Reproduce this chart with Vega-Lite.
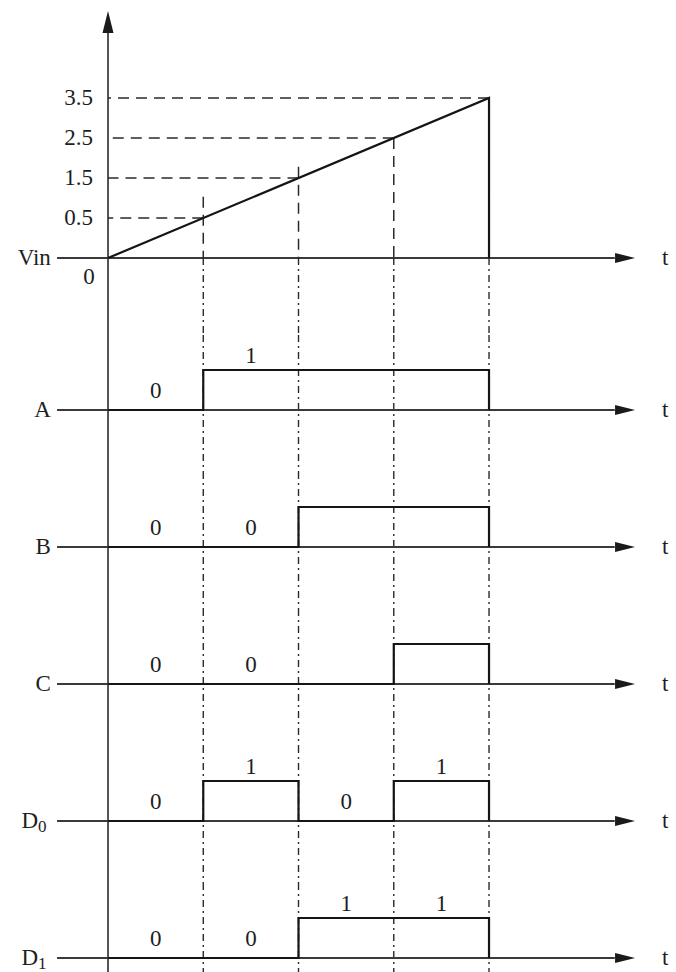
{
  "$schema": "https://vega.github.io/schema/vega-lite/v6.json",
  "padding": 0,
  "spacing": 0,
  "bounds": "flush",
  "background": "white",
  "config": {
    "view": {"stroke": null},
    "text": {"font": "Liberation Serif", "fontSize": 23, "color": "#1e1e1e"},
    "rule": {"color": "#2a2a2a"},
    "line": {"color": "#151515"}
  },
  "datasets": {
    "vin": [
      {"t": 0, "v": 0, "i": 0},
      {"t": 4, "v": 3.5, "i": 1},
      {"t": 4, "v": 0, "i": 2}
    ],
    "vinTicks": [
      {"label": "0.5", "v": 0.5, "t": 1, "top": 1.03},
      {"label": "1.5", "v": 1.5, "t": 2, "top": 1.78},
      {"label": "2.5", "v": 2.5, "t": 3, "top": 2.5},
      {"label": "3.5", "v": 3.5, "t": 4, "top": 3.5}
    ],
    "edges": [{"t": 1}, {"t": 2}, {"t": 3}, {"t": 4}],
    "signals": [
      {"sig": "A", "t": 0, "v": 0}, {"sig": "A", "t": 1, "v": 1}, {"sig": "A", "t": 4, "v": 0},
      {"sig": "B", "t": 0, "v": 0}, {"sig": "B", "t": 2, "v": 1}, {"sig": "B", "t": 4, "v": 0},
      {"sig": "C", "t": 0, "v": 0}, {"sig": "C", "t": 3, "v": 1}, {"sig": "C", "t": 4, "v": 0},
      {"sig": "D0", "t": 0, "v": 0}, {"sig": "D0", "t": 1, "v": 1}, {"sig": "D0", "t": 2, "v": 0}, {"sig": "D0", "t": 3, "v": 1}, {"sig": "D0", "t": 4, "v": 0},
      {"sig": "D1", "t": 0, "v": 0}, {"sig": "D1", "t": 2, "v": 1}, {"sig": "D1", "t": 4, "v": 0}
    ],
    "bits": [
      {"sig": "A", "t": 0.5, "bit": 0}, {"sig": "A", "t": 1.5, "bit": 1},
      {"sig": "B", "t": 0.5, "bit": 0}, {"sig": "B", "t": 1.5, "bit": 0},
      {"sig": "C", "t": 0.5, "bit": 0}, {"sig": "C", "t": 1.5, "bit": 0},
      {"sig": "D0", "t": 0.5, "bit": 0}, {"sig": "D0", "t": 1.5, "bit": 1}, {"sig": "D0", "t": 2.5, "bit": 0}, {"sig": "D0", "t": 3.5, "bit": 1},
      {"sig": "D1", "t": 0.5, "bit": 0}, {"sig": "D1", "t": 1.5, "bit": 0}, {"sig": "D1", "t": 2.5, "bit": 1}, {"sig": "D1", "t": 3.5, "bit": 1}
    ]
  },
  "vconcat": [
    {
      "width": 676, "height": 335,
      "layer": [
        {
          "data": {"values": [{"t": 0}]},
          "mark": {"type": "rule", "strokeWidth": 1.6},
          "encoding": {
            "x": {"field": "t", "type": "quantitative", "scale": {"domain": [-1.134, 5.963], "nice": false, "zero": false}, "axis": null},
            "y": {"datum": 5.4, "type": "quantitative", "scale": {"domain": [0, 0.5, 3.5], "range": [258, 218, 98], "nice": false, "zero": false}, "axis": null},
            "y2": {"datum": -0.9625}
          }
        },
        {
          "data": {"values": [{"t": 0}]},
          "mark": {"type": "point", "shape": "M-0.5,1L0,-1L0.5,1Z", "filled": true, "size": 484, "color": "#1a1a1a", "opacity": 1},
          "encoding": {
            "x": {"field": "t", "type": "quantitative"},
            "y": {"datum": 5.4, "type": "quantitative"}
          }
        },
        {
          "data": {"values": [{"t": -0.535}]},
          "mark": {"type": "rule", "strokeWidth": 1.8, "color": "#3a3a3a"},
          "encoding": {
            "x": {"field": "t", "type": "quantitative"},
            "x2": {"datum": 5.32},
            "y": {"datum": 0, "type": "quantitative"}
          }
        },
        {
          "data": {"values": [{"t": 5.428}]},
          "mark": {"type": "point", "shape": "M-1,-0.5L1,0L-1,0.5Z", "filled": true, "size": 400, "color": "#1a1a1a", "opacity": 1},
          "encoding": {
            "x": {"field": "t", "type": "quantitative"},
            "y": {"datum": 0, "type": "quantitative"}
          }
        },
        {
          "data": {"name": "vinTicks"},
          "mark": {"type": "rule", "strokeWidth": 1.5, "strokeDash": [11, 7]},
          "encoding": {
            "x": {"field": "t", "type": "quantitative"},
            "x2": {"datum": 0},
            "y": {"field": "v", "type": "quantitative"}
          }
        },
        {
          "data": {"name": "vinTicks"},
          "transform": [{"filter": "datum.t < 4"}],
          "mark": {"type": "rule", "strokeWidth": 1.5, "strokeDash": [11, 7]},
          "encoding": {
            "x": {"field": "t", "type": "quantitative"},
            "y": {"field": "top", "type": "quantitative"},
            "y2": {"datum": 0}
          }
        },
        {
          "data": {"name": "edges"},
          "mark": {"type": "rule", "strokeWidth": 1.4, "strokeDash": [7, 4, 2, 4]},
          "encoding": {
            "x": {"field": "t", "type": "quantitative"},
            "y": {"datum": 0, "type": "quantitative"},
            "y2": {"datum": -0.9625}
          }
        },
        {
          "data": {"name": "vin"},
          "mark": {"type": "line", "strokeWidth": 2.2},
          "encoding": {
            "x": {"field": "t", "type": "quantitative"},
            "y": {"field": "v", "type": "quantitative"},
            "order": {"field": "i", "type": "quantitative"}
          }
        },
        {
          "data": {"name": "vinTicks"},
          "mark": {"type": "text", "align": "right", "baseline": "middle"},
          "encoding": {
            "x": {"datum": -0.157, "type": "quantitative"},
            "y": {"field": "v", "type": "quantitative"},
            "text": {"field": "label"}
          }
        },
        {
          "data": {"values": [{"label": "0"}]},
          "mark": {"type": "text", "align": "center", "baseline": "middle"},
          "encoding": {
            "x": {"datum": -0.2, "type": "quantitative"},
            "y": {"datum": -0.2375, "type": "quantitative"},
            "text": {"field": "label"}
          }
        },
        {
          "data": {"values": [{"label": "Vin"}]},
          "mark": {"type": "text", "align": "right", "baseline": "middle"},
          "encoding": {
            "x": {"datum": -0.6, "type": "quantitative"},
            "y": {"datum": 0, "type": "quantitative"},
            "text": {"field": "label"}
          }
        },
        {
          "data": {"values": [{"label": "t"}]},
          "mark": {"type": "text", "align": "center", "baseline": "middle"},
          "encoding": {
            "x": {"datum": 5.85, "type": "quantitative"},
            "y": {"datum": 0, "type": "quantitative"},
            "text": {"field": "label"}
          }
        }
      ]
    },
    {
      "width": 676, "height": 137,
      "layer": [
        {"data": {"values": [{"t": 0}]}, "mark": {"type": "rule", "strokeWidth": 1.6},
         "encoding": {"x": {"field": "t", "type": "quantitative", "scale": {"domain": [-1.134, 5.963], "nice": false, "zero": false}, "axis": null}}},
        {"data": {"name": "edges"}, "mark": {"type": "rule", "strokeWidth": 1.4, "strokeDash": [7, 4, 2, 4]},
         "encoding": {"x": {"field": "t", "type": "quantitative"}}},
        {"data": {"values": [{"t": -0.535}]}, "mark": {"type": "rule", "strokeWidth": 1.8, "color": "#3a3a3a"},
         "encoding": {"x": {"field": "t", "type": "quantitative"}, "x2": {"datum": 5.32},
                      "y": {"datum": 0, "type": "quantitative", "scale": {"domain": [0, 1], "range": [75, 35], "nice": false, "zero": false}, "axis": null}}},
        {"data": {"values": [{"t": 5.428}]}, "mark": {"type": "point", "shape": "M-1,-0.5L1,0L-1,0.5Z", "filled": true, "size": 400, "color": "#1a1a1a", "opacity": 1},
         "encoding": {"x": {"field": "t", "type": "quantitative"}, "y": {"datum": 0, "type": "quantitative"}}},
        {"data": {"name": "signals"}, "transform": [{"filter": "datum.sig === 'A'"}], "mark": {"type": "line", "interpolate": "step-after", "strokeWidth": 2.2},
         "encoding": {"x": {"field": "t", "type": "quantitative"}, "y": {"field": "v", "type": "quantitative"}}},
        {"data": {"name": "bits"}, "transform": [{"filter": "datum.sig === 'A' && datum.bit === 0"}], "mark": {"type": "text", "align": "center", "baseline": "alphabetic", "dy": -12},
         "encoding": {"x": {"field": "t", "type": "quantitative"}, "y": {"datum": 0, "type": "quantitative"}, "text": {"field": "bit"}}},
        {"data": {"name": "bits"}, "transform": [{"filter": "datum.sig === 'A' && datum.bit === 1"}], "mark": {"type": "text", "align": "center", "baseline": "alphabetic", "dy": -7},
         "encoding": {"x": {"field": "t", "type": "quantitative"}, "y": {"datum": 1, "type": "quantitative"}, "text": {"field": "bit"}}},
        {"data": {"values": [{"label": "A"}]}, "mark": {"type": "text", "align": "right", "baseline": "middle"},
         "encoding": {"x": {"datum": -0.6, "type": "quantitative"}, "y": {"datum": 0, "type": "quantitative"}, "text": {"field": "label"}}},
        {"data": {"values": [{"label": "t"}]}, "mark": {"type": "text", "align": "center", "baseline": "middle"},
         "encoding": {"x": {"datum": 5.85, "type": "quantitative"}, "y": {"datum": 0, "type": "quantitative"}, "text": {"field": "label"}}}
      ]
    },
    {
      "width": 676, "height": 137,
      "layer": [
        {"data": {"values": [{"t": 0}]}, "mark": {"type": "rule", "strokeWidth": 1.6},
         "encoding": {"x": {"field": "t", "type": "quantitative", "scale": {"domain": [-1.134, 5.963], "nice": false, "zero": false}, "axis": null}}},
        {"data": {"name": "edges"}, "mark": {"type": "rule", "strokeWidth": 1.4, "strokeDash": [7, 4, 2, 4]},
         "encoding": {"x": {"field": "t", "type": "quantitative"}}},
        {"data": {"values": [{"t": -0.535}]}, "mark": {"type": "rule", "strokeWidth": 1.8, "color": "#3a3a3a"},
         "encoding": {"x": {"field": "t", "type": "quantitative"}, "x2": {"datum": 5.32},
                      "y": {"datum": 0, "type": "quantitative", "scale": {"domain": [0, 1], "range": [75, 35], "nice": false, "zero": false}, "axis": null}}},
        {"data": {"values": [{"t": 5.428}]}, "mark": {"type": "point", "shape": "M-1,-0.5L1,0L-1,0.5Z", "filled": true, "size": 400, "color": "#1a1a1a", "opacity": 1},
         "encoding": {"x": {"field": "t", "type": "quantitative"}, "y": {"datum": 0, "type": "quantitative"}}},
        {"data": {"name": "signals"}, "transform": [{"filter": "datum.sig === 'B'"}], "mark": {"type": "line", "interpolate": "step-after", "strokeWidth": 2.2},
         "encoding": {"x": {"field": "t", "type": "quantitative"}, "y": {"field": "v", "type": "quantitative"}}},
        {"data": {"name": "bits"}, "transform": [{"filter": "datum.sig === 'B' && datum.bit === 0"}], "mark": {"type": "text", "align": "center", "baseline": "alphabetic", "dy": -12},
         "encoding": {"x": {"field": "t", "type": "quantitative"}, "y": {"datum": 0, "type": "quantitative"}, "text": {"field": "bit"}}},
        {"data": {"name": "bits"}, "transform": [{"filter": "datum.sig === 'B' && datum.bit === 1"}], "mark": {"type": "text", "align": "center", "baseline": "alphabetic", "dy": -7},
         "encoding": {"x": {"field": "t", "type": "quantitative"}, "y": {"datum": 1, "type": "quantitative"}, "text": {"field": "bit"}}},
        {"data": {"values": [{"label": "B"}]}, "mark": {"type": "text", "align": "right", "baseline": "middle"},
         "encoding": {"x": {"datum": -0.6, "type": "quantitative"}, "y": {"datum": 0, "type": "quantitative"}, "text": {"field": "label"}}},
        {"data": {"values": [{"label": "t"}]}, "mark": {"type": "text", "align": "center", "baseline": "middle"},
         "encoding": {"x": {"datum": 5.85, "type": "quantitative"}, "y": {"datum": 0, "type": "quantitative"}, "text": {"field": "label"}}}
      ]
    },
    {
      "width": 676, "height": 137,
      "layer": [
        {"data": {"values": [{"t": 0}]}, "mark": {"type": "rule", "strokeWidth": 1.6},
         "encoding": {"x": {"field": "t", "type": "quantitative", "scale": {"domain": [-1.134, 5.963], "nice": false, "zero": false}, "axis": null}}},
        {"data": {"name": "edges"}, "mark": {"type": "rule", "strokeWidth": 1.4, "strokeDash": [7, 4, 2, 4]},
         "encoding": {"x": {"field": "t", "type": "quantitative"}}},
        {"data": {"values": [{"t": -0.535}]}, "mark": {"type": "rule", "strokeWidth": 1.8, "color": "#3a3a3a"},
         "encoding": {"x": {"field": "t", "type": "quantitative"}, "x2": {"datum": 5.32},
                      "y": {"datum": 0, "type": "quantitative", "scale": {"domain": [0, 1], "range": [75, 35], "nice": false, "zero": false}, "axis": null}}},
        {"data": {"values": [{"t": 5.428}]}, "mark": {"type": "point", "shape": "M-1,-0.5L1,0L-1,0.5Z", "filled": true, "size": 400, "color": "#1a1a1a", "opacity": 1},
         "encoding": {"x": {"field": "t", "type": "quantitative"}, "y": {"datum": 0, "type": "quantitative"}}},
        {"data": {"name": "signals"}, "transform": [{"filter": "datum.sig === 'C'"}], "mark": {"type": "line", "interpolate": "step-after", "strokeWidth": 2.2},
         "encoding": {"x": {"field": "t", "type": "quantitative"}, "y": {"field": "v", "type": "quantitative"}}},
        {"data": {"name": "bits"}, "transform": [{"filter": "datum.sig === 'C' && datum.bit === 0"}], "mark": {"type": "text", "align": "center", "baseline": "alphabetic", "dy": -12},
         "encoding": {"x": {"field": "t", "type": "quantitative"}, "y": {"datum": 0, "type": "quantitative"}, "text": {"field": "bit"}}},
        {"data": {"name": "bits"}, "transform": [{"filter": "datum.sig === 'C' && datum.bit === 1"}], "mark": {"type": "text", "align": "center", "baseline": "alphabetic", "dy": -7},
         "encoding": {"x": {"field": "t", "type": "quantitative"}, "y": {"datum": 1, "type": "quantitative"}, "text": {"field": "bit"}}},
        {"data": {"values": [{"label": "C"}]}, "mark": {"type": "text", "align": "right", "baseline": "middle"},
         "encoding": {"x": {"datum": -0.6, "type": "quantitative"}, "y": {"datum": 0, "type": "quantitative"}, "text": {"field": "label"}}},
        {"data": {"values": [{"label": "t"}]}, "mark": {"type": "text", "align": "center", "baseline": "middle"},
         "encoding": {"x": {"datum": 5.85, "type": "quantitative"}, "y": {"datum": 0, "type": "quantitative"}, "text": {"field": "label"}}}
      ]
    },
    {
      "width": 676, "height": 137,
      "layer": [
        {"data": {"values": [{"t": 0}]}, "mark": {"type": "rule", "strokeWidth": 1.6},
         "encoding": {"x": {"field": "t", "type": "quantitative", "scale": {"domain": [-1.134, 5.963], "nice": false, "zero": false}, "axis": null}}},
        {"data": {"name": "edges"}, "mark": {"type": "rule", "strokeWidth": 1.4, "strokeDash": [7, 4, 2, 4]},
         "encoding": {"x": {"field": "t", "type": "quantitative"}}},
        {"data": {"values": [{"t": -0.535}]}, "mark": {"type": "rule", "strokeWidth": 1.8, "color": "#3a3a3a"},
         "encoding": {"x": {"field": "t", "type": "quantitative"}, "x2": {"datum": 5.32},
                      "y": {"datum": 0, "type": "quantitative", "scale": {"domain": [0, 1], "range": [75, 35], "nice": false, "zero": false}, "axis": null}}},
        {"data": {"values": [{"t": 5.428}]}, "mark": {"type": "point", "shape": "M-1,-0.5L1,0L-1,0.5Z", "filled": true, "size": 400, "color": "#1a1a1a", "opacity": 1},
         "encoding": {"x": {"field": "t", "type": "quantitative"}, "y": {"datum": 0, "type": "quantitative"}}},
        {"data": {"name": "signals"}, "transform": [{"filter": "datum.sig === 'D0'"}], "mark": {"type": "line", "interpolate": "step-after", "strokeWidth": 2.2},
         "encoding": {"x": {"field": "t", "type": "quantitative"}, "y": {"field": "v", "type": "quantitative"}}},
        {"data": {"name": "bits"}, "transform": [{"filter": "datum.sig === 'D0' && datum.bit === 0"}], "mark": {"type": "text", "align": "center", "baseline": "alphabetic", "dy": -12},
         "encoding": {"x": {"field": "t", "type": "quantitative"}, "y": {"datum": 0, "type": "quantitative"}, "text": {"field": "bit"}}},
        {"data": {"name": "bits"}, "transform": [{"filter": "datum.sig === 'D0' && datum.bit === 1"}], "mark": {"type": "text", "align": "center", "baseline": "alphabetic", "dy": -7},
         "encoding": {"x": {"field": "t", "type": "quantitative"}, "y": {"datum": 1, "type": "quantitative"}, "text": {"field": "bit"}}},
        {"data": {"values": [{"label": "D"}]}, "mark": {"type": "text", "align": "right", "baseline": "middle"},
         "encoding": {"x": {"datum": -0.735, "type": "quantitative"}, "y": {"datum": 0, "type": "quantitative"}, "text": {"field": "label"}}},
        {"data": {"values": [{"label": "0"}]}, "mark": {"type": "text", "align": "left", "baseline": "middle", "fontSize": 17, "dy": 6},
         "encoding": {"x": {"datum": -0.735, "type": "quantitative"}, "y": {"datum": 0, "type": "quantitative"}, "text": {"field": "label"}}},
        {"data": {"values": [{"label": "t"}]}, "mark": {"type": "text", "align": "center", "baseline": "middle"},
         "encoding": {"x": {"datum": 5.85, "type": "quantitative"}, "y": {"datum": 0, "type": "quantitative"}, "text": {"field": "label"}}}
      ]
    },
    {
      "width": 676, "height": 89,
      "layer": [
        {"data": {"values": [{"t": 0}]}, "mark": {"type": "rule", "strokeWidth": 1.6},
         "encoding": {"x": {"field": "t", "type": "quantitative", "scale": {"domain": [-1.134, 5.963], "nice": false, "zero": false}, "axis": null}}},
        {"data": {"name": "edges"}, "mark": {"type": "rule", "strokeWidth": 1.4, "strokeDash": [7, 4, 2, 4]},
         "encoding": {"x": {"field": "t", "type": "quantitative"}}},
        {"data": {"values": [{"t": -0.535}]}, "mark": {"type": "rule", "strokeWidth": 1.8, "color": "#3a3a3a"},
         "encoding": {"x": {"field": "t", "type": "quantitative"}, "x2": {"datum": 5.32},
                      "y": {"datum": 0, "type": "quantitative", "scale": {"domain": [0, 1], "range": [75, 35], "nice": false, "zero": false}, "axis": null}}},
        {"data": {"values": [{"t": 5.428}]}, "mark": {"type": "point", "shape": "M-1,-0.5L1,0L-1,0.5Z", "filled": true, "size": 400, "color": "#1a1a1a", "opacity": 1},
         "encoding": {"x": {"field": "t", "type": "quantitative"}, "y": {"datum": 0, "type": "quantitative"}}},
        {"data": {"name": "signals"}, "transform": [{"filter": "datum.sig === 'D1'"}], "mark": {"type": "line", "interpolate": "step-after", "strokeWidth": 2.2},
         "encoding": {"x": {"field": "t", "type": "quantitative"}, "y": {"field": "v", "type": "quantitative"}}},
        {"data": {"name": "bits"}, "transform": [{"filter": "datum.sig === 'D1' && datum.bit === 0"}], "mark": {"type": "text", "align": "center", "baseline": "alphabetic", "dy": -12},
         "encoding": {"x": {"field": "t", "type": "quantitative"}, "y": {"datum": 0, "type": "quantitative"}, "text": {"field": "bit"}}},
        {"data": {"name": "bits"}, "transform": [{"filter": "datum.sig === 'D1' && datum.bit === 1"}], "mark": {"type": "text", "align": "center", "baseline": "alphabetic", "dy": -7},
         "encoding": {"x": {"field": "t", "type": "quantitative"}, "y": {"datum": 1, "type": "quantitative"}, "text": {"field": "bit"}}},
        {"data": {"values": [{"label": "D"}]}, "mark": {"type": "text", "align": "right", "baseline": "middle"},
         "encoding": {"x": {"datum": -0.735, "type": "quantitative"}, "y": {"datum": 0, "type": "quantitative"}, "text": {"field": "label"}}},
        {"data": {"values": [{"label": "1"}]}, "mark": {"type": "text", "align": "left", "baseline": "middle", "fontSize": 17, "dy": 6},
         "encoding": {"x": {"datum": -0.735, "type": "quantitative"}, "y": {"datum": 0, "type": "quantitative"}, "text": {"field": "label"}}},
        {"data": {"values": [{"label": "t"}]}, "mark": {"type": "text", "align": "center", "baseline": "middle"},
         "encoding": {"x": {"datum": 5.85, "type": "quantitative"}, "y": {"datum": 0, "type": "quantitative"}, "text": {"field": "label"}}}
      ]
    }
  ]
}
